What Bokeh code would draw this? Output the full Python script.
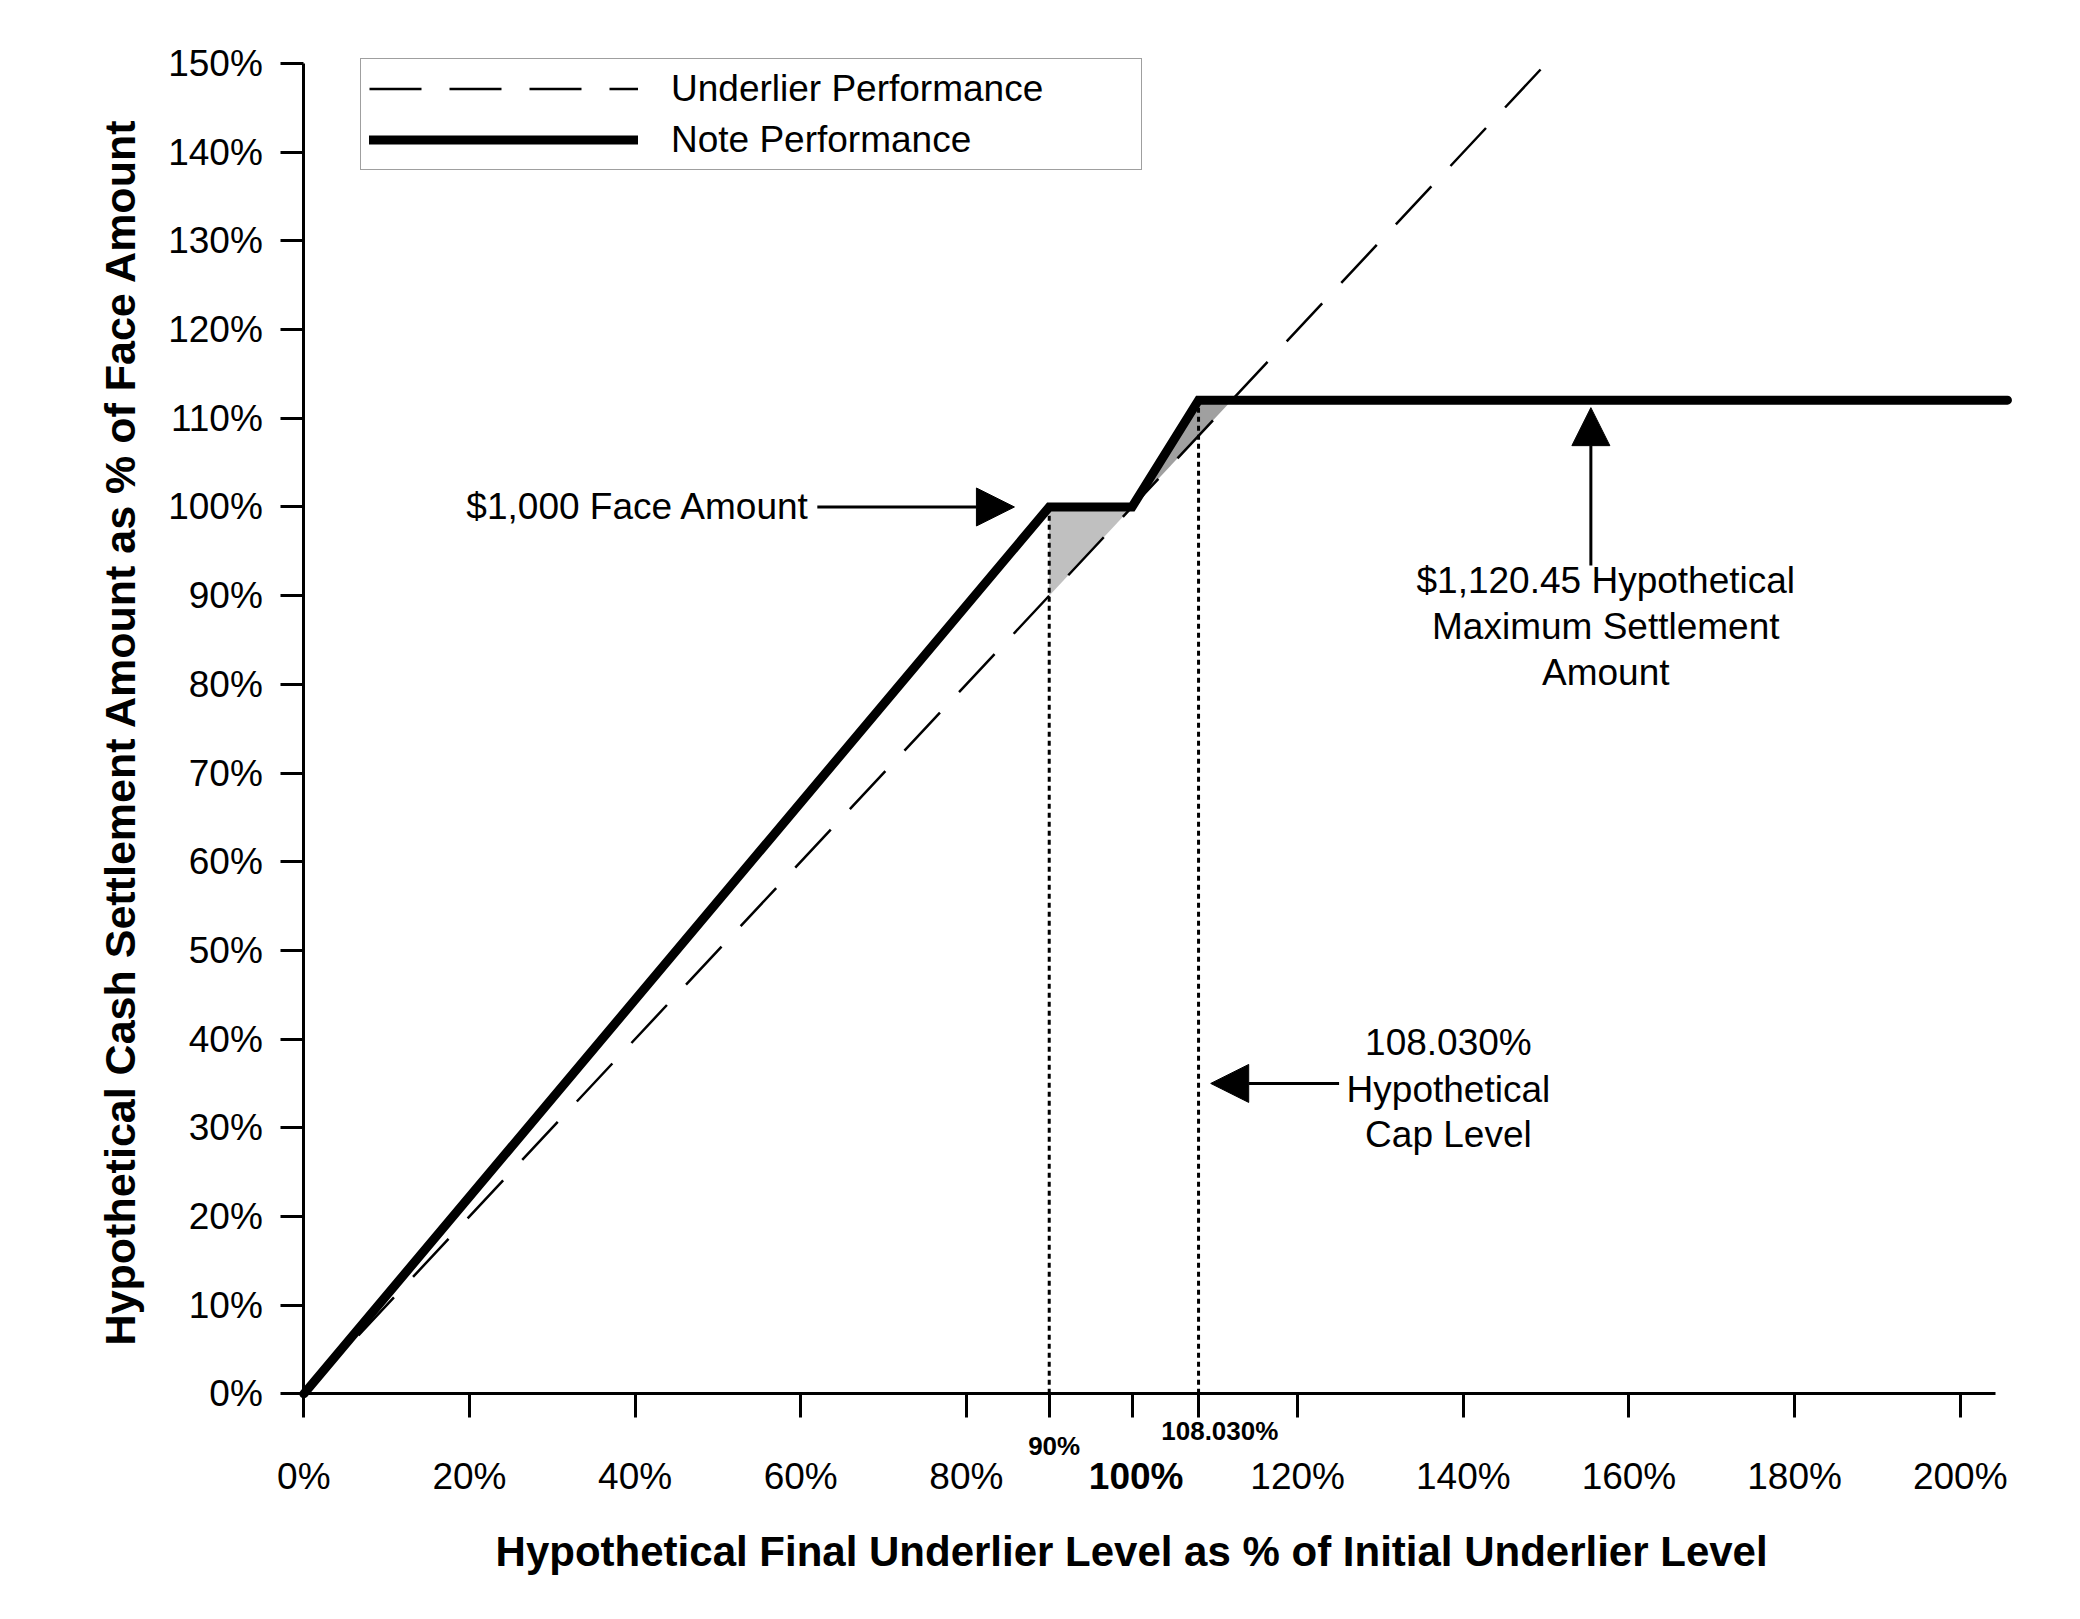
from bokeh.plotting import figure
from bokeh.models import (Range1d, FixedTicker, PrintfTickFormatter, Legend, LegendItem,
                          Label, Arrow, NormalHead, LinearAxis)
from bokeh.embed import file_html
from bokeh.resources import INLINE

# ---------------- data ----------------
underlier_x = [0, 151]
underlier_y = [0, 151]

note_x = [0, 90, 100, 108.03, 205.7]
note_y = [0, 100, 100, 112.045, 112.045]

buffer_fill_x = [90, 90, 100]
buffer_fill_y = [90, 100, 100]
cap_fill_x = [100, 108.03, 112.045]
cap_fill_y = [100, 112.045, 112.045]

ref_x = [90, 108.03]
ref_bottom = [0, 0]
ref_top = [100, 112.045]

x_ticks = [0, 20, 40, 60, 80, 90, 100, 108.03, 120, 140, 160, 180, 200]
y_ticks = [0, 10, 20, 30, 40, 50, 60, 70, 80, 90, 100, 110, 120, 130, 140, 150]

series_names = ["Underlier Performance", "Note Performance"]
x_title = "Hypothetical Final Underlier Level as % of Initial Underlier Level"
y_title = "Hypothetical Cash Settlement Amount as % of Face Amount"

FONT = "Liberation Sans"

# ---------------- figure ----------------
# The frame reaches beyond x = 0 / y = 0 so that both axes (fixed at 0)
# and all their labels are drawn inside it.
p = figure(width=2060, height=1600, x_range=Range1d(-26, 208), y_range=Range1d(-21.5, 152.6),
           output_backend="svg", toolbar_location=None,
           x_axis_location=None, y_axis_location=None,
           min_border_left=88, min_border_right=34, min_border_top=40, min_border_bottom=16)
p.outline_line_color = None
p.grid.visible = False
p.background_fill_color = "white"
p.border_fill_color = "white"

# shaded areas
p.patches(xs=[buffer_fill_x, cap_fill_x], ys=[buffer_fill_y, cap_fill_y],
          fill_color=["#c0c0c0", "#a0a0a0"], line_color=None)

# underlier (dashed)
r_under = p.line(underlier_x, underlier_y, line_color="black", line_width=2.5, line_dash="52 28")

# vertical dotted reference lines
p.segment(x0=ref_x, y0=ref_bottom, x1=ref_x, y1=ref_top, line_color="black",
          line_width=3, line_dash="5 4")

# note performance (thick)
r_note = p.line(note_x, note_y, line_color="black", line_width=9, line_join="miter",
                line_cap="round")

# ---------------- axes ----------------
xaxis = LinearAxis(fixed_location=0, bounds=(0, 204.3))
yaxis = LinearAxis(fixed_location=0, bounds=(0, 150))
p.add_layout(xaxis, "below")
p.add_layout(yaxis, "left")

for ax in (xaxis, yaxis):
    ax.axis_line_width = 3
    ax.major_tick_line_width = 3
    ax.major_tick_in = 0
    ax.minor_tick_line_color = None
    ax.major_label_text_font = FONT
    ax.major_label_text_font_size = "37px"
    ax.major_label_text_color = "black"

xaxis.ticker = FixedTicker(ticks=x_ticks)
xaxis.formatter = PrintfTickFormatter(format="%d%%")
xaxis.major_label_overrides = {90: "", 100: "", 108.03: ""}
xaxis.major_tick_out = 24
xaxis.major_label_standoff = 38

yaxis.ticker = FixedTicker(ticks=y_ticks)
yaxis.formatter = PrintfTickFormatter(format="%d%%")
yaxis.major_tick_out = 23
yaxis.major_label_standoff = 18


# special x tick labels: extra label-only axes fixed at y = 0
def label_axis(pos, text, size, standoff):
    ax = LinearAxis(fixed_location=0, ticker=FixedTicker(ticks=[pos]),
                    major_label_overrides={pos: text},
                    axis_line_color=None, major_tick_line_color=None,
                    minor_tick_line_color=None, major_tick_out=0, major_tick_in=0,
                    major_label_text_font=FONT, major_label_text_font_size=size,
                    major_label_text_font_style="bold", major_label_text_color="black",
                    major_label_standoff=standoff)
    p.add_layout(ax, "below")


label_axis(100.5, "100%", "37px", 62)
label_axis(90.6, "90%", "26px", 37)
label_axis(110.6, "108.030%", "26px", 22)

# axis titles
p.add_layout(Label(x=99.95, y=-17.8, text=x_title, text_font=FONT, text_font_size="42px",
                   text_font_style="bold", text_align="center", text_baseline="middle",
                   text_color="black"))
p.add_layout(Label(x=-22.2, y=74.7, text=y_title, angle=90, angle_units="deg",
                   text_font=FONT, text_font_size="43px", text_font_style="bold",
                   text_align="center", text_baseline="middle", text_color="black"))

# ---------------- annotations ----------------
def txt(x, y, s, align="center"):
    p.add_layout(Label(x=x, y=y, text=s, text_font=FONT, text_font_size="37px",
                       text_align=align, text_baseline="alphabetic", text_color="black"))


def arrow(x0, y0, x1, y1):
    p.add_layout(Arrow(end=NormalHead(size=38, fill_color="black", line_color="black", line_width=1),
                       x_start=x0, y_start=y0, x_end=x1, y_end=y1,
                       line_color="black", line_width=3))


txt(61.1, 100.0, "$1,000 Face Amount", align="right")
arrow(62.0, 100, 85.8, 100)

txt(157.2, 91.76, "$1,120.45 Hypothetical")
txt(157.2, 86.47, "Maximum Settlement")
txt(157.2, 81.37, "Amount")
arrow(155.4, 93.4, 155.4, 111.2)

txt(138.2, 39.56, "108.030%")
txt(138.2, 34.32, "Hypothetical")
txt(138.2, 29.22, "Cap Level")
arrow(125.0, 35.0, 109.5, 35.0)

# ---------------- legend ----------------
legend = Legend(items=[LegendItem(label=series_names[0], renderers=[r_under]),
                       LegendItem(label=series_names[1], renderers=[r_note])],
                location=(272, 1414), label_text_font=FONT, label_text_font_size="37px",
                label_text_color="black",
                label_standoff=33, glyph_width=269, glyph_height=43, label_height=43,
                label_width=462, spacing=8, padding=8, margin=0,
                border_line_color="#404040", border_line_width=1.5,
                background_fill_color="white", background_fill_alpha=1.0)
p.add_layout(legend)

open("out.html", "w").write(file_html(p, INLINE))
